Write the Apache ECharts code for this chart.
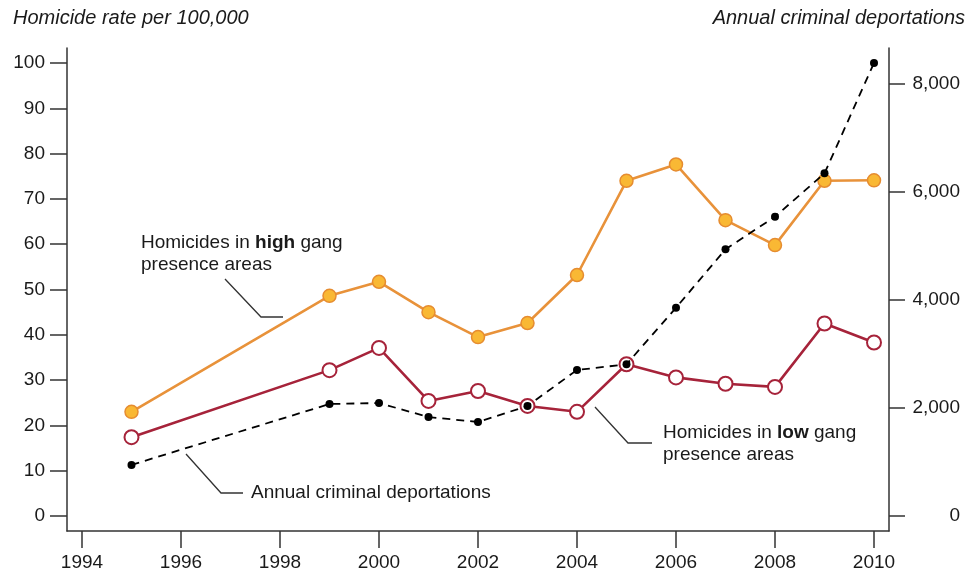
<!DOCTYPE html>
<html><head><meta charset="utf-8">
<script src="https://cdn.jsdelivr.net/npm/echarts@6/dist/echarts.min.js"></script>
<style>html,body{margin:0;padding:0;background:#fff}#c{width:977px;height:574px}</style>
</head><body><div id="c"></div>
<script>
// ---- data ----
const years = [1995, 1999, 2000, 2001, 2002, 2003, 2004, 2005, 2006, 2007, 2008, 2009, 2010];
const highGang = [23.0, 48.6, 51.7, 45.0, 39.5, 42.6, 53.2, 74.0, 77.6, 65.3, 59.8, 74.0, 74.1];
const lowGang = [17.4, 32.2, 37.1, 25.4, 27.6, 24.3, 23.0, 33.5, 30.6, 29.2, 28.5, 42.5, 38.3];
const deportations = [945, 2072, 2090, 1831, 1739, 2035, 2701, 2806, 3853, 4933, 5537, 6339, 8380];
const xTickLabels = [1994, 1996, 1998, 2000, 2002, 2004, 2006, 2008, 2010];
const leftTickLabels = [0, 10, 20, 30, 40, 50, 60, 70, 80, 90, 100];
const rightTickLabels = [0, 2000, 4000, 6000, 8000];

const FONT = '"Liberation Sans", Arial, sans-serif';
const AX = '#333';
const pair = (vals) => years.map((y, i) => [y, vals[i]]);

const chart = echarts.init(document.getElementById('c'), null, {renderer: 'canvas'});
const axisLine = {show: true, onZero: false, lineStyle: {color: AX, width: 1.5}};
const labelStyle = {fontFamily: FONT, fontSize: 19, color: '#1a1a1a'};

chart.setOption({
  animation: false,
  backgroundColor: '#fff',
  grid: {left: 67, right: 88, top: 48, bottom: 43, containLabel: false, outerBoundsMode: 'none'},
  xAxis: {
    type: 'value', min: 1993.697, max: 2010.303,
    axisLine: axisLine,
    axisTick: {show: true, customValues: xTickLabels, length: 17, lineStyle: {color: AX, width: 1.5}},
    axisLabel: Object.assign({customValues: xTickLabels, margin: 22, formatter: v => String(v)}, labelStyle),
    splitLine: {show: false}
  },
  yAxis: [{
    type: 'value', position: 'left', min: -3.31, max: 103.31,
    axisLine: axisLine,
    axisTick: {show: true, customValues: leftTickLabels, length: 17, lineStyle: {color: AX, width: 1.5}},
    axisLabel: Object.assign({customValues: leftTickLabels, margin: 22}, labelStyle),
    splitLine: {show: false}
  }, {
    type: 'value', position: 'right', min: -277, max: 8657,
    axisLine: axisLine,
    axisTick: {show: true, customValues: rightTickLabels, length: 16, lineStyle: {color: AX, width: 1.5}},
    axisLabel: Object.assign({customValues: rightTickLabels, margin: 71, align: 'right',
      formatter: v => Number(v).toLocaleString('en-US')}, labelStyle),
    splitLine: {show: false}
  }],
  series: [{
    name: 'Homicides in high gang presence areas', type: 'line', yAxisIndex: 0,
    data: pair(highGang), symbol: 'circle', symbolSize: 13,
    lineStyle: {color: '#E8923A', width: 2.6},
    itemStyle: {color: '#F9B834', borderColor: '#E68C30', borderWidth: 1.5},
    z: 2
  }, {
    name: 'Homicides in low gang presence areas', type: 'line', yAxisIndex: 0,
    data: pair(lowGang), symbol: 'circle', symbolSize: 14,
    lineStyle: {color: '#A6233A', width: 2.6},
    itemStyle: {color: '#ffffff', borderColor: '#A6233A', borderWidth: 2},
    z: 3
  }, {
    name: 'Annual criminal deportations', type: 'line', yAxisIndex: 1,
    data: pair(deportations), symbol: 'circle', symbolSize: 8,
    lineStyle: {color: '#000', width: 1.8, type: [8, 6]},
    itemStyle: {color: '#000'},
    z: 4
  }],
  graphic: [
    {type: 'text', left: 13, top: 8, style: {text: 'Homicide rate per 100,000', font: 'italic 20px ' + FONT, fill: '#1a1a1a'}},
    {type: 'text', right: 12, top: 8, style: {text: 'Annual criminal deportations', font: 'italic 20px ' + FONT, fill: '#1a1a1a'}},

    {type: 'text', x: 141, y: 243, style: {text: 'Homicides in {b|high} gang', font: '19px ' + FONT, fill: '#1a1a1a', verticalAlign: 'middle',
      rich: {b: {fontWeight: 'bold', fontSize: 19, fontFamily: FONT, fill: '#1a1a1a'}}}},
    {type: 'text', x: 141, y: 265, style: {text: 'presence areas', font: '19px ' + FONT, fill: '#1a1a1a', verticalAlign: 'middle'}},
    {type: 'polyline', shape: {points: [[225, 279], [261, 317], [283, 317]]}, style: {stroke: '#333', lineWidth: 1.3, fill: null}},

    {type: 'text', x: 663, y: 433, style: {text: 'Homicides in {b|low} gang', font: '19px ' + FONT, fill: '#1a1a1a', verticalAlign: 'middle',
      rich: {b: {fontWeight: 'bold', fontSize: 19, fontFamily: FONT, fill: '#1a1a1a'}}}},
    {type: 'text', x: 663, y: 455, style: {text: 'presence areas', font: '19px ' + FONT, fill: '#1a1a1a', verticalAlign: 'middle'}},
    {type: 'polyline', shape: {points: [[595, 407], [628, 443], [652, 443]]}, style: {stroke: '#333', lineWidth: 1.3, fill: null}},

    {type: 'text', x: 251, y: 493, style: {text: 'Annual criminal deportations', font: '19px ' + FONT, fill: '#1a1a1a', verticalAlign: 'middle'}},
    {type: 'polyline', shape: {points: [[186, 454], [221, 493], [243, 493]]}, style: {stroke: '#333', lineWidth: 1.3, fill: null}}
  ]
});
</script>
</body></html>
